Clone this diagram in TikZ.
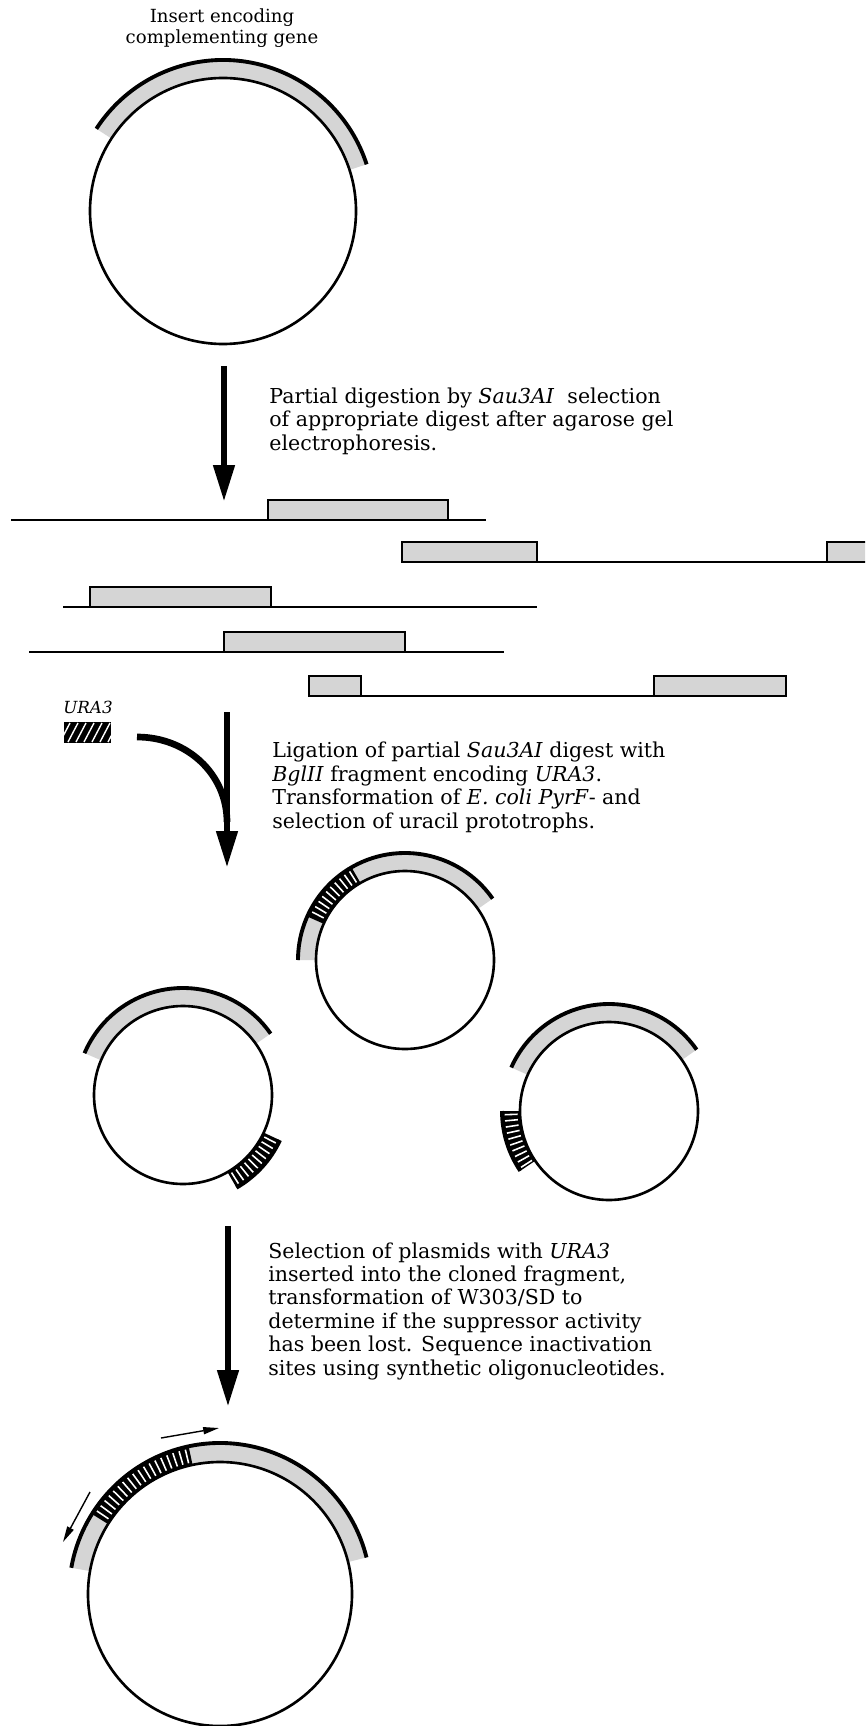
\documentclass[tikz,border=0pt]{standalone}
\usepackage{fontspec}
\setmainfont{DejaVu Serif}
\usetikzlibrary{arrows.meta,calc}
\newcommand\pband[6]{%
  \fill[#6] ($(#1)+(#4:#2)$) arc[start angle=#4, end angle=#5, radius=#2]
     -- ($(#1)+(#5:#3)$) arc[start angle=#5, end angle=#4, radius=#3] -- cycle;}
\newcommand\pedge[5]{%
  \draw[#5] ($(#1)+(#3:#2)$) arc[start angle=#3, end angle=#4, radius=#2];}
\newcommand\phatch[6]{%
  \pband{#1}{#2}{#3}{#4}{#5}{black}%
  \pgfmathtruncatemacro\hN{(#5-#4)/#6-1}%
  \foreach \i in {0,...,\hN}{%
    \pgfmathsetmacro\ha{#4+(\i+0.6)*#6}%
    \draw[white, line width=0.9pt] ($(#1)+(\ha:#2+2.5)$) -- ($(#1)+(\ha:#3-2.5)$);
  }}
\begin{document}
\begin{tikzpicture}[x=0.02cm,y=0.02cm,
  plasmid/.style={draw=black, line width=1.5pt},
  bandfill/.style={fill=gray!33},
  bandedge/.style={line width=2.2pt},
  frag/.style={line width=1.5pt},
  fragbox/.style={draw, fill=gray!33, line width=1.6pt},
  bigarrow/.style={line width=3.8pt, -{Triangle[length=21pt,width=11.5pt]}},
  thinarrow/.style={line width=0.8pt, -{Triangle[length=9pt,width=4pt]}},
  lbl/.style={font=\fontsize{11.7}{13.3}\selectfont, align=left, inner sep=0pt, anchor=base west}]
\clip (0,0) rectangle (865,-1726);
\fill[white] (0,0) rectangle (865,-1726);

% ---------- top plasmid
\coordinate (c1) at (223,-211);
\pband{c1}{133}{151}{18}{147}{bandfill}
\draw[plasmid] (c1) circle[radius=133];
\pedge{c1}{151}{18}{147}{bandedge}
\node[lbl, align=center, anchor=base, font=\fontsize{10.3}{12.2}\selectfont] (t0) at (222,-44) {Insert encoding\\complementing gene};

% ---------- arrow 1
\coordinate (a1s) at (224,-366);
\coordinate (a1e) at (224,-502);
\draw[bigarrow] (a1s) -- (a1e);
\node[lbl] (t1) at (269,-450) {Partial digestion by \textit{Sau3AI}\ \ selection\\of appropriate digest after agarose gel\\electrophoresis.};

% ---------- fragments
\draw[frag] (11,-520) -- (486,-520);
\draw[fragbox] (268,-500) rectangle (448,-520);
\draw[frag] (537,-562) -- (827,-562);
\draw[fragbox] (402,-542) rectangle (537,-562);
\draw[fragbox] (827,-542) rectangle (885,-562);
\draw[frag] (63,-607) -- (537,-607);
\draw[fragbox] (90,-587) rectangle (271,-607);
\draw[frag] (29,-652) -- (504,-652);
\draw[fragbox] (224,-632) rectangle (405,-652);
\draw[frag] (361,-696) -- (654,-696);
\draw[fragbox] (309,-676) rectangle (361,-696);
\draw[fragbox] (654,-676) rectangle (786,-696);

% ---------- URA3 and arrow 2
\node[font=\fontsize{9.5}{11}\selectfont\itshape, inner sep=0pt] (ura) at (88,-707) {URA3};
\begin{scope}
  \fill[black] (64,-722) rectangle (111,-743);
  \clip (64,-722) rectangle (111,-743);
  \foreach \k in {0,...,6} {\draw[white, line width=0.8pt] (60+\k*8,-742) -- (70+\k*8,-723);}
\end{scope}
\coordinate (cvs) at (137,-737);
\coordinate (cve) at (227,-822);
\coordinate (a2s) at (227,-712);
\coordinate (a2e) at (227,-868);
\draw[line width=3.8pt] (cvs) .. controls (187,-737) and (227,-774) .. (cve);
\draw[bigarrow] (a2s) -- (a2e);
\node[lbl] (t2) at (272,-828) {Ligation of partial \textit{Sau3AI} digest with\\\textit{BglII} fragment encoding \textit{URA3}.\\Transformation of \textit{E. coli PyrF}- and\\selection of uracil prototrophs.};

% ---------- three recombinant plasmids
\coordinate (cM) at (405,-960);
\pband{cM}{89}{107}{35}{180}{bandfill}
\phatch{cM}{89}{107}{120}{156}{3.4}
\draw[plasmid] (cM) circle[radius=89];
\pedge{cM}{107}{35}{180}{bandedge}

\coordinate (cL) at (183,-1095);
\pband{cL}{89}{107}{35}{157}{bandfill}
\phatch{cL}{89}{107}{-60}{-25}{3.4}
\draw[plasmid] (cL) circle[radius=89];
\pedge{cL}{107}{35}{157}{bandedge}
\pedge{cL}{107}{-60}{-25}{bandedge}

\coordinate (cR) at (609,-1111);
\pband{cR}{89}{107}{35}{156}{bandfill}
\phatch{cR}{89}{107}{180}{214}{3.4}
\draw[plasmid] (cR) circle[radius=89];
\pedge{cR}{107}{35}{156}{bandedge}
\pedge{cR}{107}{180}{214}{bandedge}

% ---------- arrow 3
\coordinate (a3s) at (228,-1226);
\coordinate (a3e) at (228,-1407);
\draw[bigarrow] (a3s) -- (a3e);
\node[lbl] (t3) at (268,-1375) {Selection of plasmids with \textit{URA3}\\inserted into the cloned fragment,\\transformation of W303/SD to\\determine if the suppressor activity\\has been lost. Sequence inactivation\\sites using synthetic oligonucleotides.};

% ---------- final plasmid
\coordinate (cB) at (220,-1594);
\pband{cB}{132}{151}{14}{170}{bandfill}
\phatch{cB}{132}{151}{102}{148}{2.5}
\draw[plasmid] (cB) circle[radius=132];
\pedge{cB}{151}{14}{170}{bandedge}
\coordinate (p1s) at (161,-1438);
\coordinate (p1e) at (219,-1428);
\coordinate (p2s) at (90,-1492);
\coordinate (p2e) at (63,-1542);
\draw[thinarrow] (p1s) -- (p1e);
\draw[thinarrow] (p2s) -- (p2e);
\end{tikzpicture}
\end{document}
